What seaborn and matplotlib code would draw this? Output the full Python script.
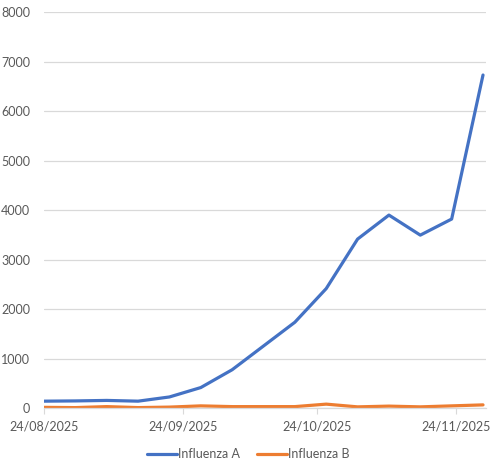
import pandas as pd
import seaborn as sns
import matplotlib.pyplot as plt
import matplotlib.dates as mdates

# weekly dates
dates = ['2025-08-24', '2025-08-31', '2025-09-07', '2025-09-14', '2025-09-21',
         '2025-09-28', '2025-10-05', '2025-10-12', '2025-10-19', '2025-10-26',
         '2025-11-02', '2025-11-09', '2025-11-16', '2025-11-23', '2025-11-30']

influenza_a = [140, 145, 155, 140, 225, 415, 775, 1255, 1735, 2415,
               3415, 3900, 3495, 3820, 6730]
influenza_b = [15, 10, 30, 10, 20, 45, 30, 30, 30, 80,
               25, 40, 25, 45, 65]

series_names = ['Influenza A', 'Influenza B']
tick_dates = ['2025-08-24', '2025-09-24', '2025-10-24', '2025-11-24']
y_ticks = [0, 1000, 2000, 3000, 4000, 5000, 6000, 7000, 8000]

# long format table for seaborn
df = pd.DataFrame({
    'Data': pd.to_datetime(dates * 2),
    'Casi': influenza_a + influenza_b,
    'Serie': [series_names[0]] * len(dates) + [series_names[1]] * len(dates),
})

sns.set_style('white')
plt.rcParams['font.family'] = ['Lato', 'DejaVu Sans']

fig = plt.figure(figsize=(5, 4.68), dpi=100)
ax = fig.add_axes([0.088, 0.128, 0.884, 0.846])

sns.lineplot(data=df, x='Data', y='Casi', hue='Serie',
             palette=['#4472C4', '#ED7D31'], linewidth=2.3, ax=ax)

# axes
ax.set_ylim(0, 8000)
ax.set_yticks(y_ticks)
ax.set_xlim(pd.Timestamp('2025-08-24'), pd.Timestamp('2025-11-30') + pd.Timedelta(hours=16))
ax.set_xticks(pd.to_datetime(tick_dates))
ax.xaxis.set_major_formatter(mdates.DateFormatter('%d/%m/%Y'))
ax.set_xlabel('')
ax.set_ylabel('')

ax.grid(axis='y', color='#d9d9d9', linewidth=0.9)
ax.set_axisbelow(True)
for s in ['top', 'right', 'left']:
    ax.spines[s].set_visible(False)
ax.spines['bottom'].set_color('#d9d9d9')
ax.spines['bottom'].set_linewidth(0.9)

ax.tick_params(axis='y', length=0, pad=10, labelsize=9, labelcolor='#595959')
ax.tick_params(axis='x', length=4, width=0.8, color='#d9d9d9', pad=5,
               labelsize=9, labelcolor='#595959', bottom=True)

# legend at the bottom
leg = ax.legend(loc='center', bbox_to_anchor=(0.462, -0.117), ncol=2,
                frameon=False, fontsize=9, handlelength=2.4,
                handletextpad=0.1, columnspacing=1.3)
for t in leg.get_texts():
    t.set_color('#595959')

fig.savefig('out.png', dpi=100)
